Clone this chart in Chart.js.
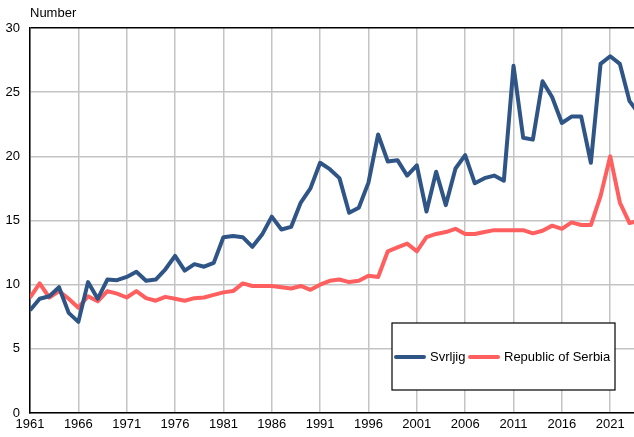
<!DOCTYPE html>
<html>
<head>
<meta charset="utf-8">
<script src="https://cdn.jsdelivr.net/npm/chart.js@4"></script>
<style>
  body { margin: 0; background: #fff; }
  canvas { display: block; }
</style>
</head>
<body>
<canvas id="chart" width="634" height="437"></canvas>
<script>
// Data
const years = [];
for (let y = 1961; y <= 2024; y++) years.push(y);

const svrljig = [
    8.0, 8.9, 9.1, 9.8, 7.8, 7.1, 10.2, 8.9, 10.4, 10.35,
    10.6, 11.0, 10.3, 10.4, 11.2, 12.25, 11.1, 11.6, 11.4, 11.7,
    13.7, 13.8, 13.7, 12.95, 13.9, 15.3, 14.3, 14.5, 16.4, 17.5,
    19.5, 19.0, 18.3, 15.6, 16.0, 17.95, 21.7, 19.6, 19.7, 18.5,
    19.3, 15.7, 18.8, 16.2, 19.05, 20.1, 17.9, 18.3, 18.5, 18.1,
    27.05, 21.45, 21.3, 25.85, 24.6, 22.6, 23.1, 23.1, 19.5, 27.2,
    27.8, 27.2, 24.3, 23.3
];
const serbia = [
    9.0, 10.1, 9.0, 9.5, 8.9, 8.2, 9.1, 8.7, 9.5, 9.3,
    9.0, 9.5, 8.95, 8.75, 9.05, 8.9, 8.75, 8.95, 9.0, 9.2,
    9.4, 9.5, 10.1, 9.9, 9.9, 9.9, 9.8, 9.7, 9.9, 9.6,
    10.0, 10.3, 10.4, 10.2, 10.3, 10.7, 10.6, 12.6, 12.9, 13.2,
    12.6, 13.7, 13.95, 14.1, 14.35, 13.95, 13.95, 14.1, 14.25, 14.25,
    14.25, 14.25, 14.0, 14.2, 14.6, 14.35, 14.85, 14.65, 14.65, 16.9,
    20.0, 16.4, 14.8, 15.0
];
const xTicks = [1961, 1966, 1971, 1976, 1981, 1986, 1991, 1996, 2001, 2006, 2011, 2016, 2021];
const yTicks = [0, 5, 10, 15, 20, 25, 30];

const FONT = 'Liberation Sans, Arial, sans-serif';

function toPoints(values) {
    return values.map((v, i) => ({ x: years[i], y: v }));
}

// "Number" label and boxed legend
const extras = {
    id: 'extras',
    afterDraw(chart) {
        const ctx = chart.ctx;
        ctx.save();
        ctx.font = '13px ' + FONT;
        ctx.fillStyle = '#000';
        ctx.textBaseline = 'alphabetic';
        ctx.fillText('Number', 30, 17);

        // legend box
        ctx.fillStyle = '#fff';
        ctx.fillRect(392, 323, 223, 67);
        ctx.strokeStyle = '#000';
        ctx.lineWidth = 1.2;
        ctx.strokeRect(392, 323, 223, 67);

        const items = [
            { x: 396, tx: 430 },
            { x: 470, tx: 504 },
        ];
        chart.data.datasets.forEach((ds, i) => {
            const it = items[i];
            ctx.strokeStyle = ds.borderColor;
            ctx.lineWidth = 4;
            ctx.lineCap = 'round';
            ctx.beginPath();
            ctx.moveTo(it.x, 357);
            ctx.lineTo(it.x + 28, 357);
            ctx.stroke();
            ctx.fillStyle = '#000';
            ctx.textBaseline = 'middle';
            ctx.fillText(ds.label, it.tx, 357);
        });
        ctx.restore();
    }
};

new Chart(document.getElementById('chart'), {
    type: 'line',
    data: {
        datasets: [
            {
                label: 'Svrljig',
                data: toPoints(svrljig),
                borderColor: '#2f5586',
                borderWidth: 4,
                borderJoinStyle: 'round',
                pointRadius: 0,
                tension: 0,
            },
            {
                label: 'Republic of Serbia',
                data: toPoints(serbia),
                borderColor: '#ff5f5f',
                borderWidth: 4,
                borderJoinStyle: 'round',
                pointRadius: 0,
                tension: 0,
            },
        ]
    },
    options: {
        responsive: false,
        animation: false,
        layout: { padding: { top: 28, left: 0, right: 0, bottom: 0 } },
        plugins: {
            legend: { display: false },
            tooltip: { enabled: false },
        },
        scales: {
            x: {
                type: 'linear',
                min: 1961,
                max: 2023.46,
                afterBuildTicks: (scale) => {
                    scale.ticks = xTicks.map(v => ({ value: v }));
                },
                afterFit: (scale) => { scale.height = 24; },
                ticks: {
                    color: '#000',
                    font: { family: FONT, size: 13 },
                    padding: 4,
                    maxRotation: 0,
                    autoSkip: false,
                    callback: (v) => String(v),
                },
                grid: {
                    color: '#c4c4c4',
                    lineWidth: 1.5,
                    drawTicks: false,
                },
                border: { display: true, color: '#000', width: 1.5 },
            },
            y: {
                min: 0,
                max: 30,
                afterBuildTicks: (scale) => {
                    scale.ticks = yTicks.map(v => ({ value: v }));
                },
                afterFit: (scale) => { scale.width = 30; },
                ticks: {
                    color: '#000',
                    font: { family: FONT, size: 13 },
                    padding: 10,
                },
                grid: {
                    color: (c) => c.tick && c.tick.value === 30 ? '#000' : '#c4c4c4',
                    lineWidth: 1.5,
                    drawTicks: false,
                },
                border: { display: true, color: '#000', width: 1.5 },
            },
        },
    },
    plugins: [extras],
});
</script>
</body>
</html>
